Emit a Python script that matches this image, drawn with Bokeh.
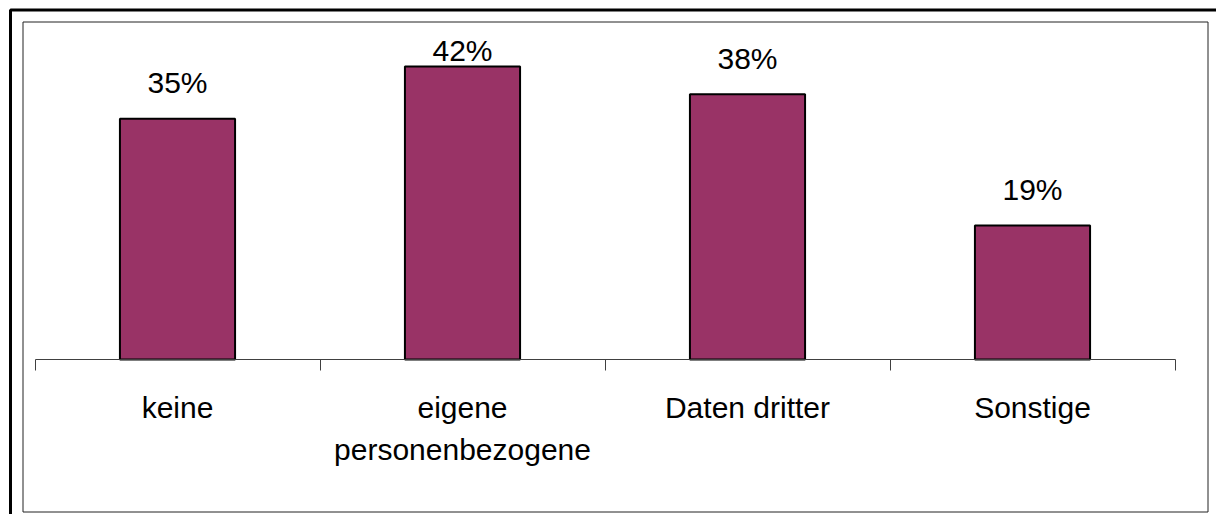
from bokeh.plotting import figure
from bokeh.models import ColumnDataSource, LabelSet, FixedTicker, Range1d, BoxAnnotation
from bokeh.core.properties import value
from bokeh.embed import file_html
from bokeh.resources import INLINE

# ---- data ----
categories = ["keine", "eigene\npersonenbezogene", "Daten dritter", "Sonstige"]
values = [34.5, 42.0, 38.0, 19.2]
value_labels = ["35%", "42%", "38%", "19%"]

# ---- layout / style ----
FONT = "Liberation Sans"
BAR_COLOR = "#993366"
W, H = 1216, 514
AXIS_LEFT_PX, CAT_PX = 34.5, 285    # plot-area left edge and category width
BASE_PX, UNIT_PX = 359, 6.978       # baseline position and px per percent
LABEL_MIN_PX = 60                   # value labels are kept below this line

n = len(categories)
x_start = -AXIS_LEFT_PX / CAT_PX
x_end = (W - AXIS_LEFT_PX) / CAT_PX
y_start = -(H - BASE_PX) / UNIT_PX
y_end = BASE_PX / UNIT_PX

offsets = [min(25.5, BASE_PX - v * UNIT_PX - LABEL_MIN_PX) for v in values]
xs = [i + 0.5 for i in range(n)]
src = ColumnDataSource(dict(x=xs, top=values, label=value_labels, off=offsets))

p = figure(width=W, height=H,
           x_range=Range1d(x_start, x_end), y_range=Range1d(y_start, y_end),
           output_backend="svg", toolbar_location=None,
           y_axis_location=None,
           min_border_left=0, min_border_right=0,
           min_border_top=0, min_border_bottom=0)
p.outline_line_color = None
p.xgrid.visible = False
p.ygrid.visible = False
p.background_fill_color = "white"
p.border_fill_color = "white"

p.vbar(x="x", top="top", bottom=0, width=0.404, source=src,
       fill_color=BAR_COLOR, line_color="black", line_width=2)

ax = p.xaxis[0]
ax.fixed_location = 0
ax.ticker = FixedTicker(ticks=xs, minor_ticks=list(range(n + 1)))
ax.major_label_overrides = {x: c for x, c in zip(xs, categories)}
ax.major_tick_line_color = None
ax.major_tick_in = 0
ax.major_tick_out = 0
ax.minor_tick_in = 0
ax.minor_tick_out = 11
ax.minor_tick_line_color = "#404040"
ax.axis_line_color = "#404040"
ax.axis_line_width = 1
ax.major_label_standoff = 20
ax.major_label_text_font = FONT
ax.major_label_text_font_size = "30px"
ax.major_label_text_color = "black"
ax.major_label_text_line_height = 1.3
ax.major_label_orientation = "horizontal"
ax.bounds = (0, n)

labels = LabelSet(x="x", y="top", text="label", y_offset="off", source=src,
                  text_align="center", text_baseline="alphabetic",
                  text_font=value(FONT), text_font_size="30px", text_color="black")
p.add_layout(labels)

# frames (screen y measured from the bottom of the canvas)
outer = BoxAnnotation(left=10, right=W + 40, top=H - 9.5, bottom=-40,
                      left_units="screen", right_units="screen",
                      top_units="screen", bottom_units="screen",
                      fill_alpha=0, line_color="black", line_width=3, line_alpha=1)
inner = BoxAnnotation(left=22.5, right=1207.5, top=H - 21.5, bottom=H - 511.5,
                      left_units="screen", right_units="screen",
                      top_units="screen", bottom_units="screen",
                      fill_alpha=0, line_color="#222222", line_width=1, line_alpha=1)
p.add_layout(outer)
p.add_layout(inner)

open("out.html", "w").write(file_html(p, INLINE))
